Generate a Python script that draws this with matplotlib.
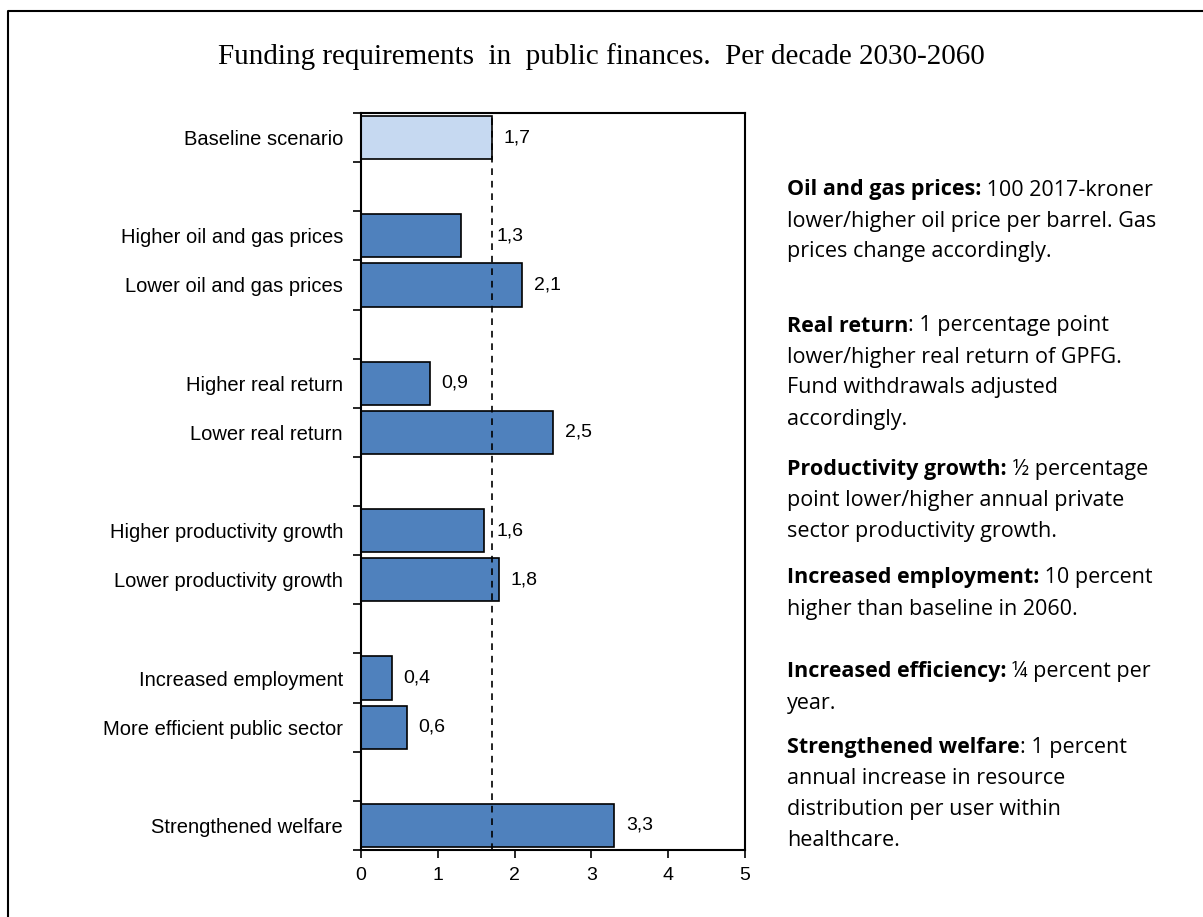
import matplotlib
matplotlib.use("Agg")
import matplotlib.pyplot as plt
from matplotlib.lines import Line2D
import numpy as np

# Data: scenario groups (one blank slot between groups)
groups = [
    ["Baseline scenario"],
    ["Higher oil and gas prices", "Lower oil and gas prices"],
    ["Higher real return", "Lower real return"],
    ["Higher productivity growth", "Lower productivity growth"],
    ["Increased employment", "More efficient public sector"],
    ["Strengthened welfare"],
]
values = [1.7, 1.3, 2.1, 0.9, 2.5, 1.6, 1.8, 0.4, 0.6, 3.3]
baseline = 1.7
x_ticks = [0, 1, 2, 3, 4, 5]

title = "Funding requirements  in  public finances.  Per decade 2030-2060"

notes = [
    ("Oil and gas prices:", [" 100 2017-kroner", "lower/higher oil price per barrel. Gas",
                             "prices change accordingly."]),
    ("Real return", [": 1 percentage point", "lower/higher real return of GPFG.",
                     "Fund withdrawals adjusted", "accordingly."]),
    ("Productivity growth:", [" \u00bd percentage", "point lower/higher annual private",
                              "sector productivity growth."]),
    ("Increased employment:", [" 10 percent", "higher than baseline in 2060."]),
    ("Increased efficiency:", [" \u00bc percent per", "year."]),
    ("Strengthened welfare", [": 1 percent", "annual increase in resource",
                              "distribution per user within", "healthcare."]),
]
note_tops_px = [190, 326, 470, 578, 672, 748]

W, H = 1203, 917
plt.rcParams["font.family"] = ["Liberation Sans", "DejaVu Sans"]

fig = plt.figure(figsize=(W / 100, H / 100), dpi=100)
ax = fig.add_axes([361 / W, 1 - 850 / H, (745 - 361) / W, (850 - 113) / H])

# slot positions: blank slot between groups
labels, pos = [], []
slot = 0
for g in groups:
    for name in g:
        labels.append(name)
        pos.append(slot)
        slot += 1
    slot += 1
n_slots = slot - 1
pos = np.array(pos)

colors = ["#c6d9f1"] + ["#4f81bd"] * (len(values) - 1)
ax.barh(pos, values, height=0.88, color=colors, edgecolor="black", linewidth=1.2, zorder=2)
ax.axvline(baseline, color="black", linestyle=(0, (4, 3.5)), linewidth=1.2, zorder=3)

for p, v in zip(pos, values):
    lx = v + 0.15
    if baseline - 0.5 < v < baseline:
        lx = baseline + 0.06
    ax.text(lx, p, f"{v:.1f}".replace(".", ","), va="center", ha="left", fontsize=14)

ax.set_xlim(0, 5)
ax.set_ylim(n_slots - 0.5, -0.5)
ax.set_xticks(x_ticks)
ax.set_xticklabels([str(t) for t in x_ticks], fontsize=14)
ax.set_yticks(np.arange(-0.5, n_slots, 1.0))
ax.set_yticklabels([])
ax.set_yticks(pos, minor=True)
ax.set_yticklabels(labels, minor=True, fontsize=14.5)
ax.tick_params(axis="y", which="major", length=6, width=1.2, direction="out")
ax.tick_params(axis="y", which="minor", length=0, pad=13)
ax.tick_params(axis="x", length=6, width=1.2, direction="out", pad=6)
for s in ax.spines.values():
    s.set_linewidth(1.5)

fig.text(0.5, 1 - 57 / H, title, ha="center", va="center", fontsize=21,
         family=["Liberation Serif", "DejaVu Serif"])

# notes on the right
renderer = fig.canvas.get_renderer()
note_font = ["Open Sans", "DejaVu Sans"]
note_size = 15.5
x0 = 787 / W
line_h = 31
for (bold, rest), top in zip(notes, note_tops_px):
    y = 1 - top / H
    t = fig.text(x0, y, bold, fontweight="bold", fontsize=note_size, va="center", ha="left",
                 family=note_font)
    w = t.get_window_extent(renderer).width / W
    fig.text(x0 + w, y, rest[0], fontsize=note_size, va="center", ha="left", family=note_font)
    for i, line in enumerate(rest[1:], start=1):
        fig.text(x0, 1 - (top + i * line_h) / H, line, fontsize=note_size, va="center", ha="left",
                 family=note_font)

# frame: only top and left edges fall inside the image
fig.lines.append(Line2D([8 / W, 8 / W, 1], [0, 1 - 11 / H, 1 - 11 / H], transform=fig.transFigure,
                        color="black", linewidth=1.5))

fig.savefig("out.png", dpi=100, facecolor="white")
